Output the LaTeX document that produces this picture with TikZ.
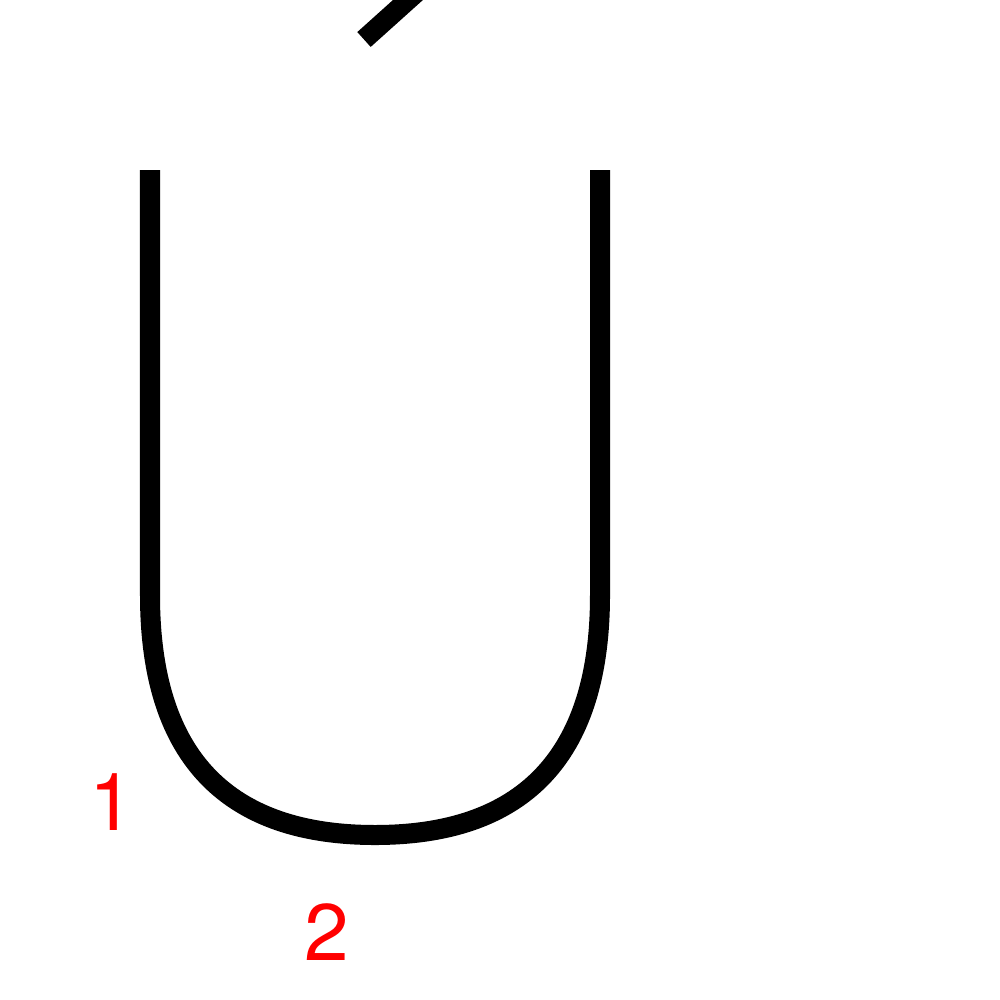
\documentclass[tikz,border=0pt]{standalone}
\usepackage{fontspec}
\setmainfont{TeX Gyre Heros}
\begin{document}
\begin{tikzpicture}[x=0.01cm,y=-0.01cm]
  \tikzstyle{stroke}=[line width=0.2cm, black]
  \tikzstyle{num}=[text=red, inner sep=0pt, anchor=base, font=\fontsize{22.8}{27}\selectfont]
  \useasboundingbox (0,0) rectangle (1000,1000);
  \clip (0,0) rectangle (1000,1000);

    % letter U
    \draw[stroke] (150,170) -- (150,595)
      .. controls (150,760) and (230,835) .. (375,835)
      .. controls (520,835) and (600,760) .. (600,595) -- (600,170);
    % accent
    \draw[stroke] (364,39.5) -- (438,-27);

    \node[num] (n1) at (112,830) {1};
    \node[num] (n2) at (327,960) {2};

\end{tikzpicture}
\end{document}
